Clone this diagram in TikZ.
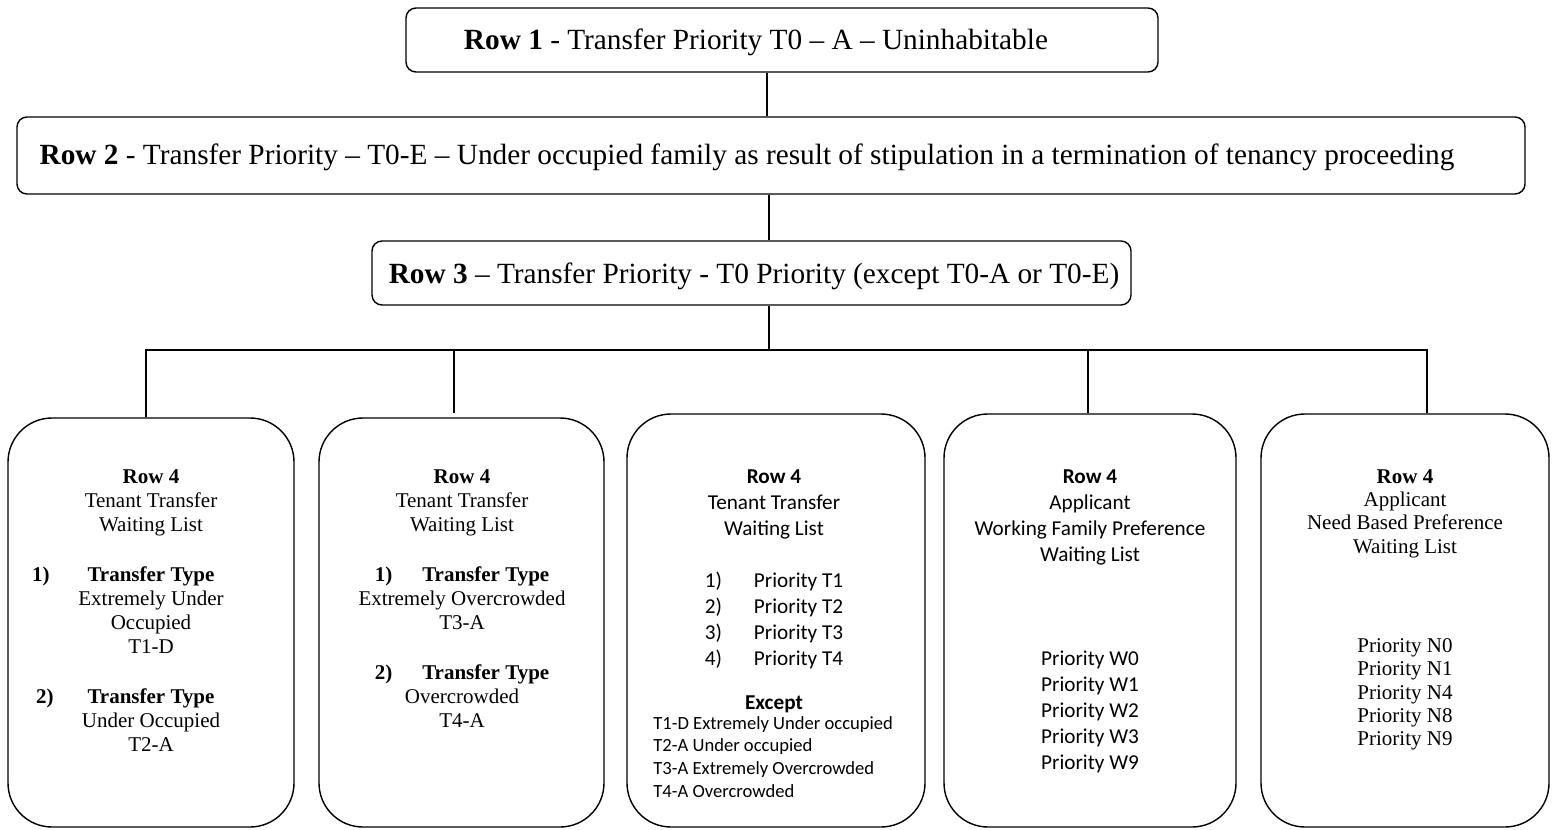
\documentclass[tikz,border=0pt]{standalone}
\usepackage{fontspec}
\setmainfont{Liberation Serif}
\newfontfamily\carlito{Carlito}
\usetikzlibrary{fit,calc}

\tikzset{
  topbox/.style={draw, line width=0.7pt, rounded corners=5pt, inner sep=0pt},
  listbox/.style={draw, line width=0.7pt, rounded corners=22pt, inner sep=0pt},
  toptext/.style={font=\fontsize{14.65}{17}\selectfont, inner sep=0pt, anchor=base},
  rowtext/.style={font=\fontsize{10.5}{12}\selectfont, align=center, anchor=north, inner sep=0pt},
  caltext/.style={font=\carlito\fontsize{10.6}{13}\selectfont, align=center, anchor=north, inner sep=0pt},
  link/.style={line width=0.65pt}
}

\begin{document}
\begin{tikzpicture}[x=0.5pt,y=-0.5pt]
\useasboundingbox (0,0) rectangle (1556,829);

% the three transfer rows
\node[topbox, fit={(406,8) (1158,72)}] (row1) {};
\node[topbox, fit={(17,117) (1525,194)}] (row2) {};
\node[topbox, fit={(372,241) (1131,305)}] (row3) {};
\node[toptext] (row1txt) at (756,50) {\textbf{Row 1} - Transfer Priority T0 – A – Uninhabitable};
\node[toptext] (row2txt) at (747,164) {\textbf{Row 2} - Transfer Priority – T0-E – Under occupied family as result of stipulation in a termination of tenancy proceeding};
\node[toptext] (row3txt) at (754,283) {\textbf{Row 3} – Transfer Priority - T0 Priority (except T0-A or T0-E)};

% waiting lists
\node[listbox, fit={(8,418) (294,827)}] (list1) {};
\node[listbox, fit={(319,418) (604,827)}] (list2) {};
\node[listbox, fit={(627,414) (925,827)}] (list3) {};
\node[listbox, fit={(944,414) (1236,827)}] (list4) {};
\node[listbox, fit={(1261,414) (1549,827)}] (list5) {};

\node[rowtext] (list1txt) at (151,469) {\textbf{Row 4}\\Tenant Transfer\\Waiting List\\[13pt]
  \makebox[0pt][r]{\textbf{1)}\hspace{19pt}}\textbf{Transfer Type}\\Extremely Under\\Occupied\\T1-D\\[13pt]
  \makebox[0pt][r]{\textbf{2)}\hspace{17pt}}\textbf{Transfer Type}\\Under Occupied\\T2-A};
\node[rowtext] (list2txt) at (462,469) {\textbf{Row 4}\\Tenant Transfer\\Waiting List\\[13pt]
  \textbf{1)\hspace{15pt}Transfer Type}\\Extremely Overcrowded\\T3-A\\[13pt]
  \textbf{2)\hspace{15pt}Transfer Type}\\Overcrowded\\T4-A};
\node[caltext] (list3txt) at (774,469) {\textbf{Row 4}\\Tenant Transfer\\Waiting List\\[13pt]
  1)\hspace{16pt}Priority T1\\2)\hspace{16pt}Priority T2\\3)\hspace{16pt}Priority T3\\4)\hspace{16pt}Priority T4\\[9pt]
  \textbf{Except}};
\node[caltext, font=\carlito\fontsize{9.3}{11.3}\selectfont, align=left, anchor=north west] (except3) at (653,716)
  {T1-D Extremely Under occupied\\T2-A Under occupied\\T3-A Extremely Overcrowded\\T4-A Overcrowded};
\node[caltext] (list4txt) at (1090,469) {\textbf{Row 4}\\Applicant\\Working Family Preference\\Waiting List\\[39pt]
  Priority W0\\Priority W1\\Priority W2\\Priority W3\\Priority W9};
\node[rowtext, font=\fontsize{10.5}{11.65}\selectfont] (list5txt) at (1405,469) {\textbf{Row 4}\\Applicant\\Need Based Preference\\Waiting List\\[38pt]
  Priority N0\\Priority N1\\Priority N4\\Priority N8\\Priority N9};

% connectors
\coordinate (hub) at (769,350);
\draw[link] (row1.south -| 767,0) -- (row2.north -| 767,0);
\draw[link] (row2.south -| hub) -- (row3.north -| hub);
\draw[link] (row3.south -| hub) -- (hub);
\draw[link] (list1.north -| 146,0) |- (hub) -| (list5.north -| 1427,0);
\draw[link] (hub -| 454,0) -- ([yshift=2pt]list2.north -| 454,0);
\draw[link] (hub -| 1088,0) -- (list4.north -| 1088,0);
\end{tikzpicture}
\end{document}
